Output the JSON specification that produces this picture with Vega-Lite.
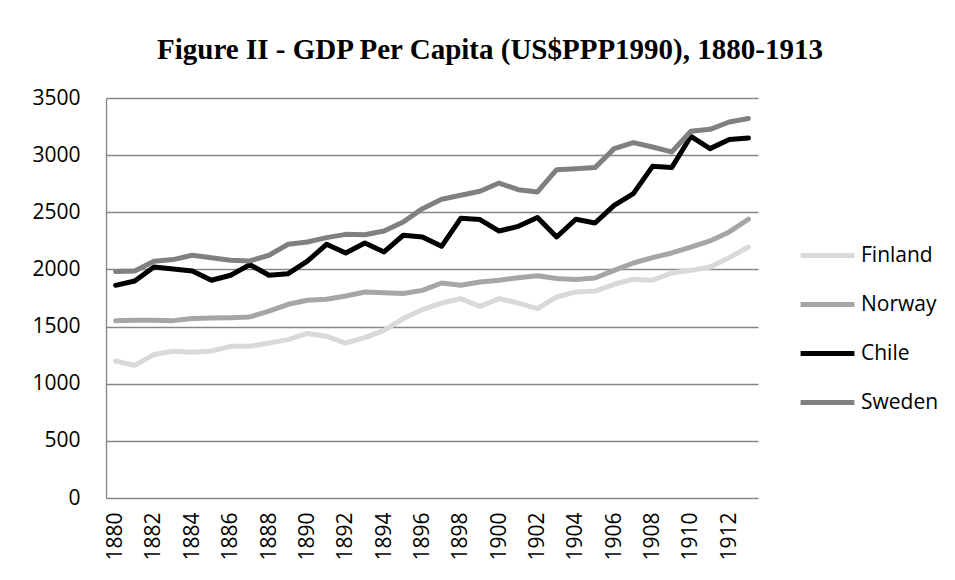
{
  "$schema": "https://vega.github.io/schema/vega-lite/v6.json",
  "width": 652,
  "height": 400,
  "autosize": {"type": "none"},
  "padding": {"left": 106, "top": 98, "right": 197, "bottom": 82},
  "background": "white",
  "title": {
    "text": "Figure II - GDP Per Capita (US$PPP1990), 1880-1913",
    "font": "Liberation Serif",
    "fontSize": 29,
    "fontWeight": "bold",
    "color": "#000000",
    "anchor": "middle",
    "dx": 58,
    "offset": 22
  },
  "config": {
    "view": {"stroke": null},
    "axis": {
      "labelFont": "Open Sans",
      "labelFontSize": 21,
      "labelColor": "#000000",
      "ticks": false,
      "title": null,
      "domainColor": "#868686",
      "gridColor": "#868686",
      "gridWidth": 1.3
    }
  },
  "data": {
    "values": [
      {"year": 1880, "country": "Finland", "gdp": 1199},
      {"year": 1881, "country": "Finland", "gdp": 1161},
      {"year": 1882, "country": "Finland", "gdp": 1255},
      {"year": 1883, "country": "Finland", "gdp": 1284},
      {"year": 1884, "country": "Finland", "gdp": 1275},
      {"year": 1885, "country": "Finland", "gdp": 1286},
      {"year": 1886, "country": "Finland", "gdp": 1327},
      {"year": 1887, "country": "Finland", "gdp": 1327},
      {"year": 1888, "country": "Finland", "gdp": 1356},
      {"year": 1889, "country": "Finland", "gdp": 1386},
      {"year": 1890, "country": "Finland", "gdp": 1440},
      {"year": 1891, "country": "Finland", "gdp": 1415},
      {"year": 1892, "country": "Finland", "gdp": 1356},
      {"year": 1893, "country": "Finland", "gdp": 1403},
      {"year": 1894, "country": "Finland", "gdp": 1467},
      {"year": 1895, "country": "Finland", "gdp": 1570},
      {"year": 1896, "country": "Finland", "gdp": 1649},
      {"year": 1897, "country": "Finland", "gdp": 1706},
      {"year": 1898, "country": "Finland", "gdp": 1745},
      {"year": 1899, "country": "Finland", "gdp": 1677},
      {"year": 1900, "country": "Finland", "gdp": 1745},
      {"year": 1901, "country": "Finland", "gdp": 1706},
      {"year": 1902, "country": "Finland", "gdp": 1657},
      {"year": 1903, "country": "Finland", "gdp": 1759},
      {"year": 1904, "country": "Finland", "gdp": 1803},
      {"year": 1905, "country": "Finland", "gdp": 1811},
      {"year": 1906, "country": "Finland", "gdp": 1870},
      {"year": 1907, "country": "Finland", "gdp": 1914},
      {"year": 1908, "country": "Finland", "gdp": 1905},
      {"year": 1909, "country": "Finland", "gdp": 1969},
      {"year": 1910, "country": "Finland", "gdp": 1992},
      {"year": 1911, "country": "Finland", "gdp": 2021},
      {"year": 1912, "country": "Finland", "gdp": 2103},
      {"year": 1913, "country": "Finland", "gdp": 2196},
      {"year": 1880, "country": "Norway", "gdp": 1552},
      {"year": 1881, "country": "Norway", "gdp": 1555},
      {"year": 1882, "country": "Norway", "gdp": 1555},
      {"year": 1883, "country": "Norway", "gdp": 1552},
      {"year": 1884, "country": "Norway", "gdp": 1570},
      {"year": 1885, "country": "Norway", "gdp": 1575},
      {"year": 1886, "country": "Norway", "gdp": 1578},
      {"year": 1887, "country": "Norway", "gdp": 1584},
      {"year": 1888, "country": "Norway", "gdp": 1636},
      {"year": 1889, "country": "Norway", "gdp": 1695},
      {"year": 1890, "country": "Norway", "gdp": 1730},
      {"year": 1891, "country": "Norway", "gdp": 1739},
      {"year": 1892, "country": "Norway", "gdp": 1768},
      {"year": 1893, "country": "Norway", "gdp": 1803},
      {"year": 1894, "country": "Norway", "gdp": 1797},
      {"year": 1895, "country": "Norway", "gdp": 1789},
      {"year": 1896, "country": "Norway", "gdp": 1817},
      {"year": 1897, "country": "Norway", "gdp": 1881},
      {"year": 1898, "country": "Norway", "gdp": 1861},
      {"year": 1899, "country": "Norway", "gdp": 1890},
      {"year": 1900, "country": "Norway", "gdp": 1905},
      {"year": 1901, "country": "Norway", "gdp": 1928},
      {"year": 1902, "country": "Norway", "gdp": 1945},
      {"year": 1903, "country": "Norway", "gdp": 1920},
      {"year": 1904, "country": "Norway", "gdp": 1911},
      {"year": 1905, "country": "Norway", "gdp": 1925},
      {"year": 1906, "country": "Norway", "gdp": 1992},
      {"year": 1907, "country": "Norway", "gdp": 2056},
      {"year": 1908, "country": "Norway", "gdp": 2103},
      {"year": 1909, "country": "Norway", "gdp": 2144},
      {"year": 1910, "country": "Norway", "gdp": 2196},
      {"year": 1911, "country": "Norway", "gdp": 2249},
      {"year": 1912, "country": "Norway", "gdp": 2328},
      {"year": 1913, "country": "Norway", "gdp": 2439},
      {"year": 1880, "country": "Chile", "gdp": 1861},
      {"year": 1881, "country": "Chile", "gdp": 1899},
      {"year": 1882, "country": "Chile", "gdp": 2021},
      {"year": 1883, "country": "Chile", "gdp": 2004},
      {"year": 1884, "country": "Chile", "gdp": 1986},
      {"year": 1885, "country": "Chile", "gdp": 1905},
      {"year": 1886, "country": "Chile", "gdp": 1949},
      {"year": 1887, "country": "Chile", "gdp": 2042},
      {"year": 1888, "country": "Chile", "gdp": 1949},
      {"year": 1889, "country": "Chile", "gdp": 1963},
      {"year": 1890, "country": "Chile", "gdp": 2072},
      {"year": 1891, "country": "Chile", "gdp": 2220},
      {"year": 1892, "country": "Chile", "gdp": 2144},
      {"year": 1893, "country": "Chile", "gdp": 2231},
      {"year": 1894, "country": "Chile", "gdp": 2153},
      {"year": 1895, "country": "Chile", "gdp": 2299},
      {"year": 1896, "country": "Chile", "gdp": 2284},
      {"year": 1897, "country": "Chile", "gdp": 2202},
      {"year": 1898, "country": "Chile", "gdp": 2447},
      {"year": 1899, "country": "Chile", "gdp": 2436},
      {"year": 1900, "country": "Chile", "gdp": 2336},
      {"year": 1901, "country": "Chile", "gdp": 2377},
      {"year": 1902, "country": "Chile", "gdp": 2455},
      {"year": 1903, "country": "Chile", "gdp": 2284},
      {"year": 1904, "country": "Chile", "gdp": 2439},
      {"year": 1905, "country": "Chile", "gdp": 2406},
      {"year": 1906, "country": "Chile", "gdp": 2561},
      {"year": 1907, "country": "Chile", "gdp": 2663},
      {"year": 1908, "country": "Chile", "gdp": 2902},
      {"year": 1909, "country": "Chile", "gdp": 2891},
      {"year": 1910, "country": "Chile", "gdp": 3165},
      {"year": 1911, "country": "Chile", "gdp": 3057},
      {"year": 1912, "country": "Chile", "gdp": 3136},
      {"year": 1913, "country": "Chile", "gdp": 3150},
      {"year": 1880, "country": "Sweden", "gdp": 1981},
      {"year": 1881, "country": "Sweden", "gdp": 1986},
      {"year": 1882, "country": "Sweden", "gdp": 2071},
      {"year": 1883, "country": "Sweden", "gdp": 2086},
      {"year": 1884, "country": "Sweden", "gdp": 2124},
      {"year": 1885, "country": "Sweden", "gdp": 2103},
      {"year": 1886, "country": "Sweden", "gdp": 2080},
      {"year": 1887, "country": "Sweden", "gdp": 2074},
      {"year": 1888, "country": "Sweden", "gdp": 2124},
      {"year": 1889, "country": "Sweden", "gdp": 2220},
      {"year": 1890, "country": "Sweden", "gdp": 2240},
      {"year": 1891, "country": "Sweden", "gdp": 2278},
      {"year": 1892, "country": "Sweden", "gdp": 2307},
      {"year": 1893, "country": "Sweden", "gdp": 2304},
      {"year": 1894, "country": "Sweden", "gdp": 2336},
      {"year": 1895, "country": "Sweden", "gdp": 2415},
      {"year": 1896, "country": "Sweden", "gdp": 2532},
      {"year": 1897, "country": "Sweden", "gdp": 2614},
      {"year": 1898, "country": "Sweden", "gdp": 2649},
      {"year": 1899, "country": "Sweden", "gdp": 2684},
      {"year": 1900, "country": "Sweden", "gdp": 2756},
      {"year": 1901, "country": "Sweden", "gdp": 2698},
      {"year": 1902, "country": "Sweden", "gdp": 2678},
      {"year": 1903, "country": "Sweden", "gdp": 2873},
      {"year": 1904, "country": "Sweden", "gdp": 2882},
      {"year": 1905, "country": "Sweden", "gdp": 2891},
      {"year": 1906, "country": "Sweden", "gdp": 3057},
      {"year": 1907, "country": "Sweden", "gdp": 3110},
      {"year": 1908, "country": "Sweden", "gdp": 3071},
      {"year": 1909, "country": "Sweden", "gdp": 3028},
      {"year": 1910, "country": "Sweden", "gdp": 3209},
      {"year": 1911, "country": "Sweden", "gdp": 3226},
      {"year": 1912, "country": "Sweden", "gdp": 3290},
      {"year": 1913, "country": "Sweden", "gdp": 3320}
    ]
  },
  "mark": {"type": "line", "strokeWidth": 5, "strokeCap": "round", "strokeJoin": "round"},
  "encoding": {
    "x": {
      "field": "year",
      "type": "ordinal",
      "scale": {"type": "point", "padding": 0.5},
      "axis": {
        "values": [1880, 1882, 1884, 1886, 1888, 1890, 1892, 1894, 1896, 1898, 1900, 1902, 1904, 1906, 1908, 1910, 1912],
        "labelAngle": -90,
        "labelAlign": "right",
        "labelBaseline": "middle",
        "labelPadding": 14,
        "domain": false,
        "grid": false
      }
    },
    "y": {
      "field": "gdp",
      "type": "quantitative",
      "scale": {"domain": [0, 3500], "nice": false},
      "axis": {
        "values": [0, 500, 1000, 1500, 2000, 2500, 3000, 3500],
        "format": "d",
        "labelPadding": 26,
        "domain": true,
        "domainWidth": 1.3,
        "grid": true
      }
    },
    "color": {
      "field": "country",
      "type": "nominal",
      "sort": ["Finland", "Norway", "Chile", "Sweden"],
      "scale": {
        "domain": ["Finland", "Norway", "Chile", "Sweden"],
        "range": ["#d9d9d9", "#a6a6a6", "#000000", "#808080"]
      },
      "legend": {
        "title": null,
        "orient": "none",
        "legendX": 692,
        "legendY": 128,
        "symbolType": "stroke",
        "symbolSize": 2900,
        "symbolStrokeWidth": 5,
        "labelFont": "Open Sans",
        "labelFontSize": 21,
        "labelColor": "#000000",
        "labelOffset": 4,
        "rowPadding": 9
      }
    }
  }
}
